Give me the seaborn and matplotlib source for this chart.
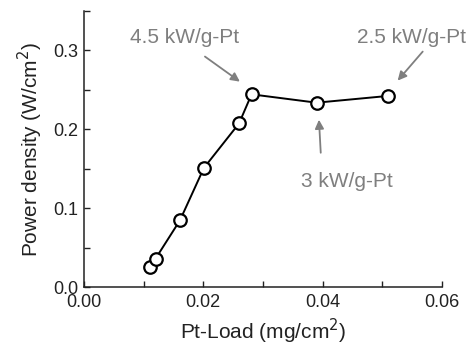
import matplotlib
matplotlib.use("Agg")
import matplotlib.pyplot as plt
import seaborn as sns
import pandas as pd
from matplotlib.ticker import MultipleLocator

pt_load = [0.0110, 0.0120, 0.0161, 0.0201, 0.0260, 0.0281, 0.0390, 0.0509]
power_density = [0.0254, 0.036, 0.0847, 0.151, 0.2075, 0.2444, 0.2338, 0.2423]
annotations = ["4.5 kW/g-Pt", "3 kW/g-Pt", "2.5 kW/g-Pt"]

df = pd.DataFrame({"x": pt_load, "y": power_density})

sns.set_style("ticks")
plt.rcParams['font.family'] = ['Liberation Sans', 'DejaVu Sans']

fig = plt.figure(figsize=(4.72, 3.46), dpi=100)
ax = fig.add_axes([0.178, 0.1705, 0.758, 0.7975])

sns.lineplot(data=df, x="x", y="y", ax=ax, color="black", linewidth=1.4,
             marker="o", markersize=9, markerfacecolor="white",
             markeredgecolor="black", markeredgewidth=1.6, sort=False)

ax.set_xlim(0, 0.06)
ax.set_ylim(0, 0.35)
ax.set_xticks([0.0, 0.02, 0.04, 0.06])
ax.set_xticklabels(["0.00", "0.02", "0.04", "0.06"])
ax.set_yticks([0.0, 0.1, 0.2, 0.3])
ax.set_yticklabels(["0.0", "0.1", "0.2", "0.3"])
ax.xaxis.set_minor_locator(MultipleLocator(0.01))
ax.yaxis.set_minor_locator(MultipleLocator(0.05))
ax.tick_params(which="both", direction="in", length=4, width=1, labelsize=13, colors="#222222")
ax.tick_params(axis="x", pad=5)
ax.tick_params(axis="y", pad=4)
for s in ["top", "right"]:
    ax.spines[s].set_visible(False)
for s in ["left", "bottom"]:
    ax.spines[s].set_linewidth(1.1)
    ax.spines[s].set_color("#222222")

ax.set_xlabel("Pt-Load (mg/cm$^2$)", fontsize=15, labelpad=4, color="#222222")
ax.set_ylabel("Power density (W/cm$^2$)", fontsize=15, labelpad=6, color="#222222")

gray = "#7f7f7f"
arrowprops = dict(arrowstyle="-|>", color=gray, lw=1.3, mutation_scale=13,
                  shrinkA=0, shrinkB=0)
# arrows
ax.annotate("", xy=(0.02614, 0.2605), xytext=(0.02028, 0.2923), arrowprops=dict(arrowprops))
ax.annotate("", xy=(0.0394, 0.2122), xytext=(0.0397, 0.1703), arrowprops=dict(arrowprops))
ax.annotate("", xy=(0.0526, 0.2618), xytext=(0.0568, 0.2986), arrowprops=dict(arrowprops),
            annotation_clip=False)
# texts
ax.text(0.01693, 0.3168, annotations[0], ha="center", va="center", fontsize=15, color=gray)
ax.text(0.04408, 0.1334, annotations[1], ha="center", va="center", fontsize=15, color=gray)
ax.text(0.05497, 0.3168, annotations[2], ha="center", va="center", fontsize=15, color=gray,
        clip_on=False)

fig.savefig("out.png", dpi=100)
